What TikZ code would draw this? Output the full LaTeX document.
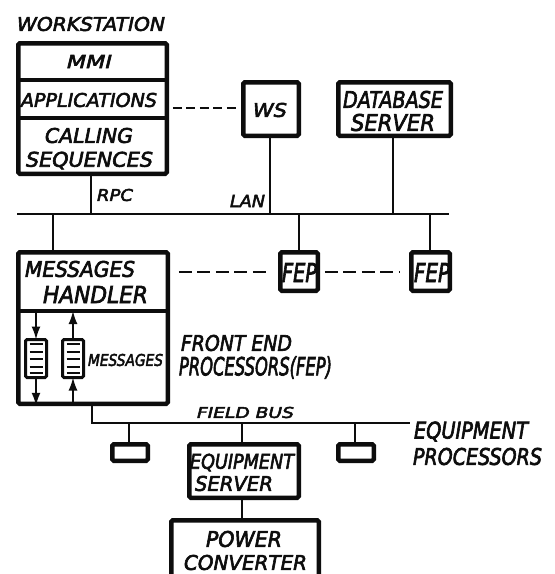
\documentclass[tikz,border=0pt]{standalone}
\usepackage{fontspec}
\usepackage{graphicx}
\setmainfont[ItalicFont={DejaVu Sans Oblique},ItalicFeatures={FakeBold=3}]{DejaVu Sans}
\usetikzlibrary{arrows.meta}
\definecolor{ink}{gray}{0.05}
\tikzset{
  x=1pt,y=-1pt,
  boxbase/.style={draw=ink,rectangle,rounded corners=1.5pt,inner sep=0pt,outer sep=0pt,fill=white},
  thin line/.style={draw=ink,line width=1.8pt},
  divider/.style={draw=ink,line width=3.4pt},
  dash line/.style={draw=ink,line width=2pt,dash pattern=on 9pt off 4.5pt},
  dash long/.style={draw=ink,line width=2pt,dash pattern=on 13pt off 5.5pt},
  queue tip/.style={-{Latex[length=13pt,width=9pt]}},
  lbl/.style={inner sep=0pt,outer sep=0pt,text=ink},
}
% \bx{name}{x0}{y0}{x1}{y1}{line width}: outer edges in pixels
\newcommand{\bx}[6]{%
  \pgfmathsetmacro{\bw}{#4-#2-#6}\pgfmathsetmacro{\bh}{#5-#3-#6}%
  \pgfmathsetmacro{\cx}{(#2+#4)/2}\pgfmathsetmacro{\cy}{(#3+#5)/2}%
  \node[boxbase,line width=#6pt,minimum width=\bw pt,minimum height=\bh pt] (#1) at (\cx,\cy) {};}
% \tx{name}{x0}{y0}{x1}{y1}{text}: text fitted to its extent
\newcommand{\tx}[6]{%
  \pgfmathsetmacro{\bw}{#4-#2}\pgfmathsetmacro{\bh}{#5-#3}%
  \pgfmathsetmacro{\cx}{(#2+#4)/2}\pgfmathsetmacro{\cy}{(#3+#5)/2}%
  \node[lbl] (#1) at (\cx,\cy) {\resizebox{\bw pt}{\bh pt}{\itshape #6}};}
\begin{document}
\begin{tikzpicture}
\clip (0,0) rectangle (555,574);
\fill[white] (0,0) rectangle (555,574);
% bus coordinates
\coordinate (lanL) at (17,214);
\coordinate (lanR) at (449,214);
\coordinate (fbT) at (92,423);
\coordinate (fbR) at (410,423);
\coordinate (xrpc) at (91,214);
\coordinate (xws) at (270,214);
\coordinate (xdb) at (393,214);
\coordinate (xmh) at (53,214);
\coordinate (xf1) at (299,214);
\coordinate (xf2) at (430,214);
\coordinate (xe1) at (129,423);
\coordinate (xe2) at (242,423);
\coordinate (xe3) at (355,423);
% boxes
\bx{wk}{16}{41}{169}{176}{4.5}
\bx{ws}{241}{80}{301}{138}{4.5}
\bx{db}{336}{80}{453}{138}{4.5}
\bx{f1}{278}{250}{320}{293}{4.5}
\bx{f2}{409}{250}{452}{293}{4.5}
\bx{mh}{16}{250}{170}{406}{4.5}
\bx{q1}{24}{338}{48}{379}{3}
\bx{q2}{61}{338}{85}{379}{3}
\bx{e1}{110}{442}{150}{463}{4.5}
\bx{e2}{187}{442}{301}{500}{4.5}
\bx{e3}{336}{442}{376}{463}{4.5}
\bx{pc}{169}{518}{321}{590}{4.5}
% dividers
\coordinate (d1) at (92,80);
\coordinate (d2) at (92,118);
\coordinate (d3) at (92,311);
\draw[divider] (wk.west |- d1) -- (wk.east |- d1);
\draw[divider] (wk.west |- d2) -- (wk.east |- d2);
\draw[divider] (mh.west |- d3) -- (mh.east |- d3);
% queue rulings
\foreach \q in {q1,q2}\foreach \yy in {344,352,359,367,373}{
  \coordinate (r) at (0,\yy);
  \draw[draw=ink,line width=1.5pt] ([xshift=4pt]\q.west |- r) -- ([xshift=-4pt]\q.east |- r);
}
% queue arrows
\draw[thin line,queue tip] (q1.north |- d3) -- (q1.north);
\draw[thin line,queue tip] (q1.south) -- ([yshift=-2pt]q1.south |- mh.south);
\draw[thin line,queue tip] (q2.north) -- (q2.north |- d3);
\draw[thin line,queue tip] ([yshift=-2pt]q2.south |- mh.south) -- (q2.south);
% buses
\draw[thin line] (lanL) -- (lanR);
\draw[thin line] (wk.south -| xrpc) -- (xrpc);
\draw[thin line] (ws.south -| xws) -- (xws);
\draw[thin line] (db.south -| xdb) -- (xdb);
\draw[thin line] (xmh) -- (xmh |- mh.north);
\draw[thin line] (xf1) -- (xf1 |- f1.north);
\draw[thin line] (xf2) -- (xf2 |- f2.north);
\draw[thin line] (mh.south -| fbT) -- (fbT) -- (fbR);
\draw[thin line] (xe1) -- (xe1 |- e1.north);
\draw[thin line] (xe2) -- (xe2 |- e2.north);
\draw[thin line] (xe3) -- (xe3 |- e3.north);
\draw[thin line] (e2.south -| xe2) -- (xe2 |- pc.north);
% dashed links
\coordinate (da) at (0,108);
\coordinate (db2) at (0,272);
\draw[dash line] ([xshift=6pt]wk.east |- da) -- ([xshift=-4pt]ws.west |- da);
\draw[dash long] ([xshift=11pt]mh.east |- db2) -- ([xshift=-10pt]f1.west |- db2);
\draw[dash long] ([xshift=7pt]f1.east |- db2) -- ([xshift=-11pt]f2.west |- db2);
% labels
\tx{t1}{17}{17}{165}{31}{WORKSTATION}
\tx{t2}{67}{55}{112}{68}{MMI}
\tx{t3}{21}{93}{157}{107}{APPLICATIONS}
\tx{t4}{45}{128}{133}{143}{CALLING}
\tx{t5}{26}{153}{153}{168}{SEQUENCES}
\tx{t6}{97}{189}{133}{201}{RPC}
\tx{t7}{230}{195}{265}{207}{LAN}
\tx{t8}{253}{103}{287}{117}{WS}
\tx{t9}{343}{91}{443}{108}{DATABASE}
\tx{t10}{351}{114}{435}{131}{SERVER}
\tx{t11}{282}{263}{317}{282}{FEP}
\tx{t12}{414}{263}{450}{282}{FEP}
\tx{t13}{25}{261}{135}{277}{MESSAGES}
\tx{t14}{43}{286}{148}{303}{HANDLER}
\tx{t15}{88}{354}{163}{366}{MESSAGES}
\tx{t16}{181}{335}{292}{351}{FRONT END}
\tx{t17}{179}{358}{332}{377}{PROCESSORS(FEP)}
\tx{t18}{197}{407}{294}{418}{FIELD BUS}
\tx{t19}{414}{423}{528}{440}{EQUIPMENT}
\tx{t20}{413}{448}{542}{465}{PROCESSORS}
\tx{t21}{190}{455}{294}{470}{EQUIPMENT}
\tx{t22}{195}{476}{273}{491}{SERVER}
\tx{t23}{206}{531}{282}{547}{POWER}
\tx{t24}{184}{555}{307}{570}{CONVERTER}
\end{tikzpicture}
\end{document}
